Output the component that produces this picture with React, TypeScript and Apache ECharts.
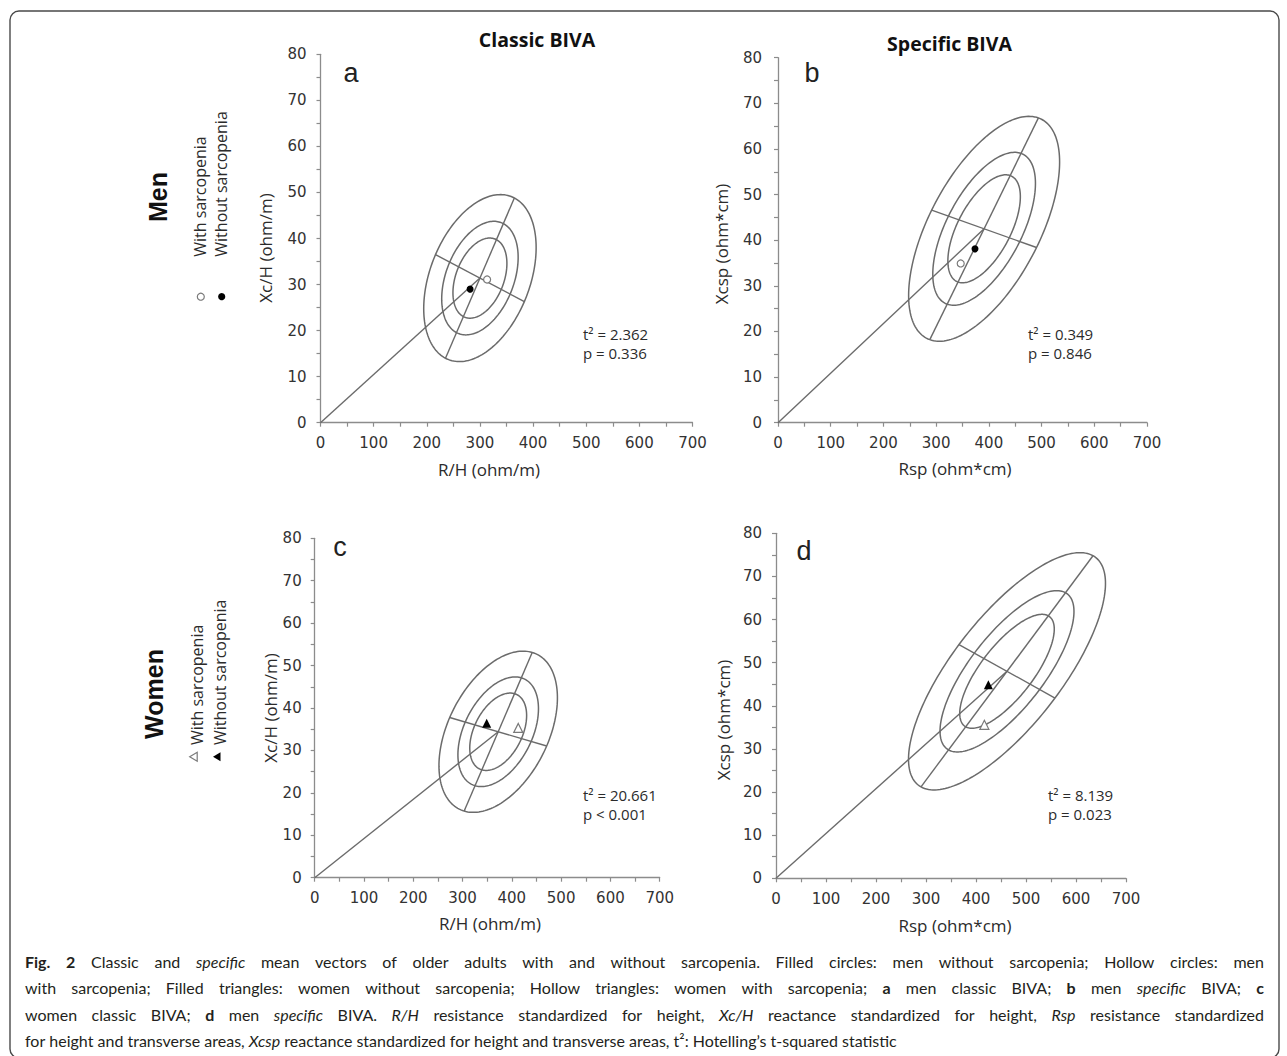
import React, { useEffect, useRef } from "react";
import * as echarts from "echarts";

// ---------------- data ----------------
const panelLetters = ["a", "b", "c", "d"];
const columnTitles = ["Classic BIVA", "Specific BIVA"];
const rowTitles = ["Men", "Women"];
const legendLabels = ["With sarcopenia", "Without sarcopenia"];
const xAxisNames = ["R/H (ohm/m)", "Rsp (ohm*cm)", "R/H (ohm/m)", "Rsp (ohm*cm)"];
const yAxisNames = ["Xc/H (ohm/m)", "Xcsp (ohm*cm)", "Xc/H (ohm/m)", "Xcsp (ohm*cm)"];
const xRange = [0, 700];
const xStep = 100;
const yRange = [0, 80];
const yStep = 10;

// ellipse geometry (data units)
const ellipseCenters = [[300, 31.4], [391, 42.5], [372.3, 34.4], [462, 48]];
const majorSemiAxes = [[64.8, 17.4], [103, 24.3], [69, 18.7], [172, 26.8]];
const minorSemiAxes = [[-83.6, 5.1], [-99.5, 4.1], [-98.4, 3.35], [-96, 6.2]];
const ellipseScales = [0.48, 0.68, 1];

// mean vectors
const withoutSarcopenia = [[281.5, 29.0], [373.7, 38.1], [349, 36.4], [424.7, 44.9]];
const withSarcopenia = [[313.5, 31.1], [346.6, 34.9], [413, 35.3], [416.7, 35.6]];
const markerShapes = ["circle", "circle", "triangle", "triangle"];

const t2Labels = ["t\u00b2 = 2.362", "t\u00b2 = 0.349", "t\u00b2 = 20.661", "t\u00b2 = 8.139"];
const pLabels = ["p = 0.336", "p = 0.846", "p < 0.001", "p = 0.023"];

const captionLines = [
  "**Fig.** **2** Classic and _specific_ mean vectors of older adults with and without sarcopenia. Filled circles: men without sarcopenia; Hollow circles: men",
  "with sarcopenia; Filled triangles: women without sarcopenia; Hollow triangles: women with sarcopenia; **a** men classic BIVA; **b** men _specific_ BIVA; **c**",
  "women classic BIVA; **d** men _specific_ BIVA. _R/H_ resistance standardized for height, _Xc/H_ reactance standardized for height, _Rsp_ resistance standardized",
  "for height and transverse areas, _Xcsp_ reactance standardized for height and transverse areas, t\u00b2: Hotelling\u2019s t-squared statistic",
];

// ---------------- layout ----------------
const gridBoxes = [
  { left: 320.5, top: 54.3, width: 372, height: 368.4 },
  { left: 778, top: 57.7, width: 369, height: 365 },
  { left: 314.7, top: 538.3, width: 345, height: 339.4 },
  { left: 776, top: 533.3, width: 350, height: 345 },
];
const yLabelMargins = [14, 16, 13, 14];
const titlePos = [[537, 39], [949.5, 43]];
const rowTitlePos = [[158, 197], [154, 694]];
const letterPos = [[351, 73], [812, 73], [340, 547], [804, 551]];
const xNamePos = [[489, 469], [955, 468], [490, 923], [955, 925]];
const yNamePos = [[265, 248], [721.5, 244], [270, 708], [723, 720]];
const statPos = [[583, 334, 353], [1028, 334, 353], [583, 795, 814], [1048, 795, 814]];
const legendTextPos = [
  [[199.6, 256.7], [221.3, 256.7]],
  [[196.9, 745], [219.6, 745]],
];
const legendMarkerPos = [
  [[200.8, 296.7], [221.7, 296.7]],
  [[193.7, 756.7], [217, 756.7]],
];

const LINE = "#6b6b6b";
const AXIS = "#8c8c8c";
const TEXT = "#2b2b2b";
const TXT_FONT = "Open Sans";

function buildCaption(): any[] {
  const size = 16;
  const fam = "Lato";
  const left = 25;
  const right = 1264;
  const ys = [961.7, 987.7, 1014, 1040];
  const canvas = document.createElement("canvas");
  const ctx = canvas.getContext("2d") as CanvasRenderingContext2D;
  const fontOf = (s: string) =>
    (s === "b" ? "bold " : s === "i" ? "italic " : "") + size + "px " + fam;
  const els: any[] = [];
  captionLines.forEach((line, li) => {
    const words = line.split(" ").map((w) => {
      if (w.startsWith("**")) return { t: w.slice(2, -2), s: "b" };
      if (w.startsWith("_")) return { t: w.slice(1, -1), s: "i" };
      return { t: w, s: "r" };
    });
    const widths = words.map((w) => {
      ctx.font = fontOf(w.s);
      return ctx.measureText(w.t).width;
    });
    ctx.font = fontOf("r");
    const space = ctx.measureText(" ").width;
    const total = widths.reduce((a, b) => a + b, 0);
    const justify = li < captionLines.length - 1;
    const gap = justify ? (right - left - total) / (words.length - 1) : space;
    let x = left;
    words.forEach((w, k) => {
      els.push({
        type: "text",
        x,
        y: ys[li],
        silent: true,
        style: {
          text: w.t,
          fill: "#231f20",
          fontFamily: fam,
          fontSize: size,
          fontWeight: w.s === "b" ? "bold" : "normal",
          fontStyle: w.s === "i" ? "italic" : "normal",
          align: "left",
          verticalAlign: "middle",
        },
      });
      x += widths[k] + gap;
    });
  });
  return els;
}

function ellipseRender(params: any, api: any) {
  const cx = api.value(0), cy = api.value(1);
  const ax = api.value(2), ay = api.value(3);
  const bx = api.value(4), by = api.value(5);
  const k = api.value(6);
  const pts: number[][] = [];
  const n = 180;
  for (let j = 0; j <= n; j++) {
    const t = (j / n) * Math.PI * 2;
    const c = Math.cos(t), s = Math.sin(t);
    pts.push(api.coord([cx + k * (c * ax + s * bx), cy + k * (c * ay + s * by)]));
  }
  return {
    type: "polyline",
    shape: { points: pts },
    style: { stroke: LINE, lineWidth: 1.5, fill: "none" },
  };
}

function buildOption(): any {
  const grid = gridBoxes.map((g) => ({
    left: g.left,
    top: g.top,
    width: g.width,
    height: g.height,
    containLabel: false,
    outerBoundsMode: "none",
  }));
  const axisCommon = {
    type: "value",
    axisLine: { show: true, onZero: false, lineStyle: { color: AXIS, width: 1.3 } },
    axisTick: { show: true, inside: false, length: 4, lineStyle: { color: AXIS, width: 1.2 } },
    minorTick: { show: true, splitNumber: 2, length: 4, lineStyle: { color: AXIS, width: 1.2 } },
    splitLine: { show: false },
    minorSplitLine: { show: false },
  };
  const xAxis = gridBoxes.map((_, i) => ({
    ...axisCommon,
    gridIndex: i,
    min: xRange[0],
    max: xRange[1],
    interval: xStep,
    axisLabel: { margin: 13, fontFamily: "DejaVu Sans", fontSize: 15, color: "#333" },
  }));
  const yAxis = gridBoxes.map((_, i) => ({
    ...axisCommon,
    gridIndex: i,
    min: yRange[0],
    max: yRange[1],
    interval: yStep,
    axisLabel: { margin: yLabelMargins[i], fontFamily: "DejaVu Sans", fontSize: 15, color: "#333" },
  }));

  const series: any[] = [];
  gridBoxes.forEach((_, i) => {
    const c = ellipseCenters[i];
    const a = majorSemiAxes[i];
    const b = minorSemiAxes[i];
    series.push({
      type: "custom",
      xAxisIndex: i,
      yAxisIndex: i,
      clip: false,
      silent: true,
      renderItem: ellipseRender,
      data: ellipseScales.map((k) => [c[0], c[1], a[0], a[1], b[0], b[1], k]),
      z: 2,
    });
    const seg = (p: number[], q: number[]) => ({
      type: "line",
      xAxisIndex: i,
      yAxisIndex: i,
      symbol: "none",
      silent: true,
      lineStyle: { color: LINE, width: 1.4 },
      data: [p, q],
      z: 2,
    });
    series.push(seg([c[0] - a[0], c[1] - a[1]], [c[0] + a[0], c[1] + a[1]]));
    series.push(seg([c[0] - b[0], c[1] - b[1]], [c[0] + b[0], c[1] + b[1]]));
    series.push(seg([0, 0], c));
    const shape = markerShapes[i];
    const size = shape === "circle" ? 7 : 9;
    series.push({
      type: "scatter",
      xAxisIndex: i,
      yAxisIndex: i,
      symbol: shape,
      symbolSize: size,
      silent: true,
      itemStyle: { color: "#ffffff", borderColor: "#7a7a7a", borderWidth: 1.2, opacity: 1 },
      data: [withSarcopenia[i]],
      z: 5,
    });
    series.push({
      type: "scatter",
      xAxisIndex: i,
      yAxisIndex: i,
      symbol: shape,
      symbolSize: size,
      silent: true,
      itemStyle: { color: "#000000", opacity: 1 },
      data: [withoutSarcopenia[i]],
      z: 6,
    });
  });

  const graphic: any[] = [];
  graphic.push({
    type: "rect",
    silent: true,
    shape: { x: 10, y: 11, width: 1269, height: 1047, r: 9 },
    style: { fill: "none", stroke: "#4a4a4a", lineWidth: 1.4 },
  });
  const txt = (text: string, x: number, y: number, extra: any = {}, rot = 0) => ({
    type: "text",
    x,
    y,
    rotation: rot,
    silent: true,
    style: {
      text,
      fill: TEXT,
      fontFamily: TXT_FONT,
      fontSize: 16,
      align: "center",
      verticalAlign: "middle",
      ...extra,
    },
  });
  columnTitles.forEach((t, i) =>
    graphic.push(txt(t, titlePos[i][0], titlePos[i][1], { fontSize: 19.5, fontWeight: "bold", fill: "#111" }))
  );
  rowTitles.forEach((t, i) =>
    graphic.push(
      txt(t, rowTitlePos[i][0], rowTitlePos[i][1], { fontSize: 25, fontWeight: "bold", fontFamily: "Liberation Sans", fill: "#111" }, Math.PI / 2)
    )
  );
  panelLetters.forEach((t, i) =>
    graphic.push(txt(t, letterPos[i][0], letterPos[i][1], { fontSize: 27, fontFamily: "Liberation Sans", fill: "#222" }))
  );
  xAxisNames.forEach((t, i) => graphic.push(txt(t, xNamePos[i][0], xNamePos[i][1], { fontSize: 17 })));
  yAxisNames.forEach((t, i) => graphic.push(txt(t, yNamePos[i][0], yNamePos[i][1], { fontSize: 17 }, Math.PI / 2)));
  t2Labels.forEach((t, i) => {
    graphic.push(txt(t, statPos[i][0], statPos[i][1], { fontSize: 15, align: "left" }));
    graphic.push(txt(pLabels[i], statPos[i][0], statPos[i][2], { fontSize: 15, align: "left" }));
  });
  // row legends (rotated)
  legendTextPos.forEach((row, r) => {
    row.forEach((p, k) => {
      graphic.push(txt(legendLabels[k], p[0], p[1], { fontSize: 16, align: "left" }, Math.PI / 2));
    });
    const [hp, fp] = legendMarkerPos[r];
    if (r === 0) {
      graphic.push({
        type: "circle",
        silent: true,
        shape: { cx: hp[0], cy: hp[1], r: 3.5 },
        style: { fill: "#fff", stroke: "#7a7a7a", lineWidth: 1.2 },
      });
      graphic.push({
        type: "circle",
        silent: true,
        shape: { cx: fp[0], cy: fp[1], r: 3.6 },
        style: { fill: "#000" },
      });
    } else {
      const tri = (p: number[]) => [
        [p[0] - 4, p[1]],
        [p[0] + 3.5, p[1] - 4.5],
        [p[0] + 3.5, p[1] + 4.5],
      ];
      graphic.push({
        type: "polygon",
        silent: true,
        shape: { points: tri(hp) },
        style: { fill: "#fff", stroke: "#7a7a7a", lineWidth: 1.2 },
      });
      graphic.push({
        type: "polygon",
        silent: true,
        shape: { points: tri(fp) },
        style: { fill: "#000" },
      });
    }
  });
  graphic.push(...buildCaption());

  return {
    animation: false,
    backgroundColor: "#ffffff",
    grid,
    xAxis,
    yAxis,
    series,
    graphic,
  };
}

export default function App() {
  const ref = useRef<HTMLDivElement | null>(null);
  useEffect(() => {
    if (!ref.current) return;
    const chart = echarts.init(ref.current, undefined, { renderer: "svg" });
    chart.setOption(buildOption());
    return () => chart.dispose();
  }, []);
  return (
    <div
      ref={ref}
      style={{ position: "absolute", left: 0, top: 0, width: 1287, height: 1056, background: "#fff" }}
    />
  );
}
